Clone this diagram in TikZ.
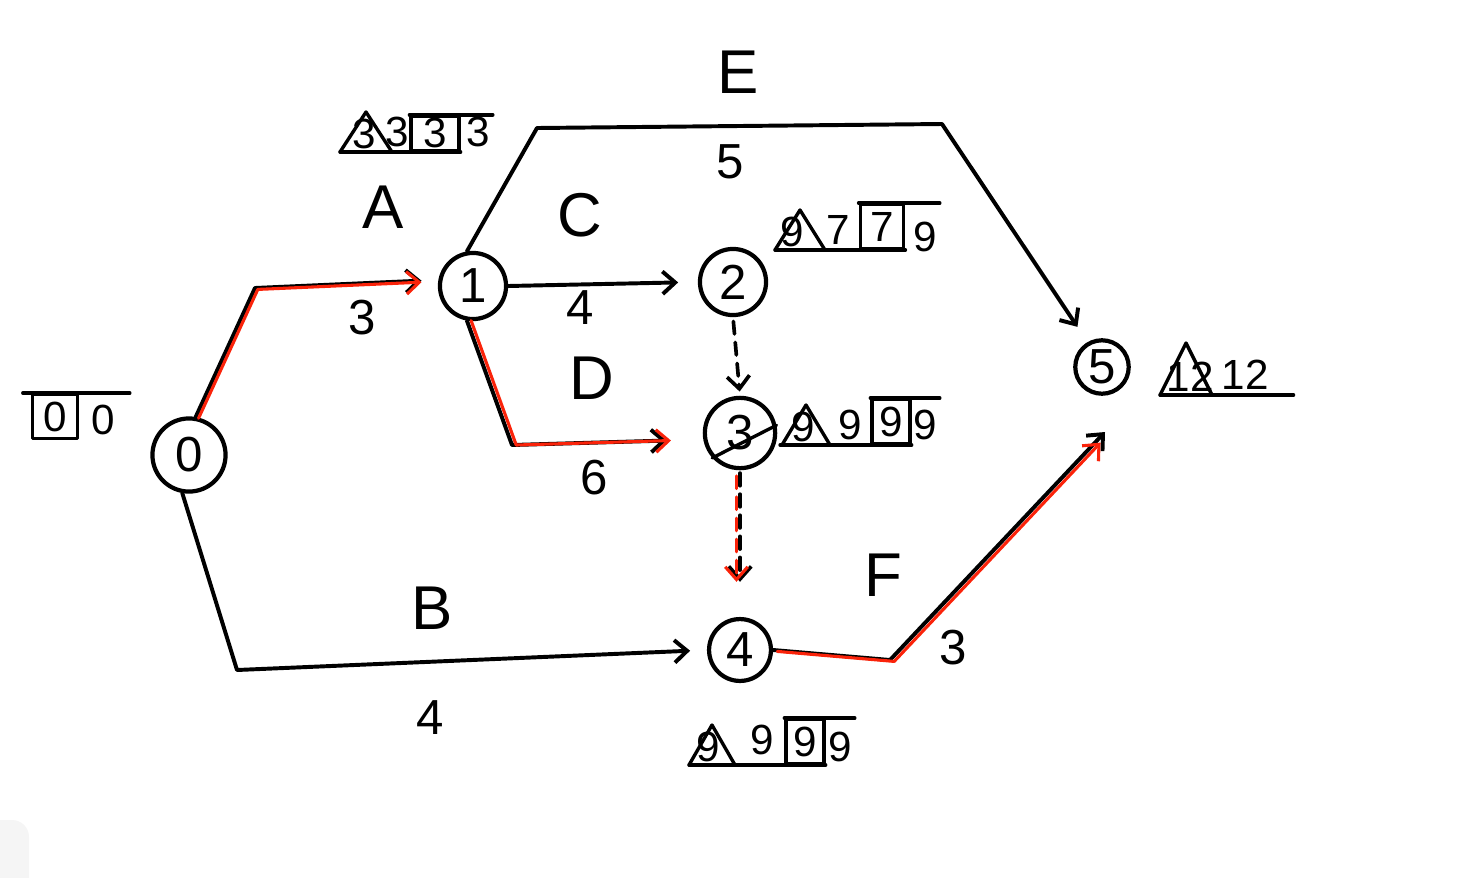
\documentclass[tikz,border=0pt]{standalone}
\usepackage{fontspec}
\setmainfont{Liberation Sans}
\usetikzlibrary{shapes,arrows.meta,positioning,calc}
\definecolor{critred}{RGB}{250,35,10}
\definecolor{panelgray}{RGB}{245,245,245}
\newcommand{\annofont}{\fontsize{30}{30}\selectfont}
\newcommand{\labfont}{\fontsize{44}{44}\selectfont}
\newcommand{\durfont}{\fontsize{35}{35}\selectfont}

\tikzset{pics/tri/.style args={#1/#2}{code={\draw[line width=2.4pt] (-#1,0) -- (0,-#2) -- (#1,0) -- cycle;}}}

\begin{document}
\begin{tikzpicture}[x=0.025cm, y=-0.025cm, line cap=round, line join=round,
    >={Straight Barb[length=9pt,width=16pt]},
    event/.style={circle, draw, line width=3pt, inner sep=0pt, font=\fontsize{35}{35}\selectfont},
    act/.style={line width=2.8pt},
    crit/.style={line width=2.2pt, draw=critred},
    dummy/.style={line width=2.6pt, dash pattern=on 9pt off 6pt},
    bx/.style={rectangle, draw, line width=2.4pt, inner sep=0pt, minimum width=28pt, minimum height=31pt, font=\annofont},
    num/.style={inner sep=2pt, font=\annofont},
    rule/.style={line width=2.4pt},
    lab/.style={font=\labfont},
    dur/.style={font=\durfont}]
    \useasboundingbox (0,0) rectangle (1468,877);
    % corner panel
    \fill[panelgray, rounded corners=12] (-20,820) rectangle (29,900);

    % Events
    \node[event, minimum size=52pt] (n0) at (189,455) {0};
    \node[event, minimum size=47pt] (n1) at (473,286) {1};
    \node[event, minimum size=47pt] (n2) at (733,282) {2};
    \node[event, minimum size=50pt] (n3) at (740,433) {3};
    \node[event, minimum size=44pt] (n4) at (740,650) {4};
    \node[event, minimum size=38pt] (n5) at (1102,367) {5};
    \draw[line width=2.4pt] (n3.222) -- (n3.12);

    % Corners of the activity lines
    \coordinate (cA) at (255,288);
    \coordinate (cD) at (512,445);
    \coordinate (cE1) at (537,128);
    \coordinate (cE2) at (942,124);
    \coordinate (cB) at (237,670);
    \coordinate (cF) at (890,660);
    \coordinate (tF) at (1105,432);

    % Activities
    \draw[act, ->, shorten >=12pt] (n0.80) -- (cA) -- (n1.170);
    \draw[act, ->, shorten >=14pt] (n1.east) -- (n2.west);
    \draw[act, ->, shorten >=26pt] (n1.260) -- (cD) -- (n3.190);
    \draw[act, ->, shorten >=13pt] (n1.100) -- (cE1) -- (cE2) -- (n5.120);
    \draw[act, ->, shorten >=12pt] (n0.260) -- (cB) -- (n4.west);
    \draw[act, ->] (n4.east) -- (cF) -- (tF);
    \draw[dummy, ->, shorten <=3pt, shorten >=3pt] (n2.south) -- (n3.north);
    \draw[dummy, ->, shorten <=2pt, shorten >=25pt] (n3.south) -- (n4.north);

    % Critical path
    \begin{scope}[transform canvas={xshift=2pt, yshift=-1pt}]
        \draw[crit, ->, shorten >=14pt] (n0.80) -- (cA) -- (n1.170);
    \end{scope}
    \begin{scope}[transform canvas={xshift=3pt}]
        \draw[crit, ->, shorten >=26pt] (n1.260) -- (cD) -- (n3.190);
    \end{scope}
    \begin{scope}[transform canvas={xshift=3pt, yshift=-1pt}]
        \draw[crit, ->, shorten >=9pt] (n4.east) -- (cF) -- (tF);
    \end{scope}
    \begin{scope}[transform canvas={xshift=-2.5pt}]
        \draw[crit, dummy, line width=2.2pt, ->, shorten <=4pt, shorten >=25pt] (n3.south) -- (n4.north);
    \end{scope}

    % Activity names and durations
    \node[lab] (lE) at (738,72) {E};
    \node[dur] (dE) at (730,162) {5};
    \node[lab] (lA) at (383,207) {A};
    \node[dur] (dA) at (362,318) {3};
    \node[lab] (lC) at (580,215) {C};
    \node[dur] (dC) at (580,308) {4};
    \node[lab] (lD) at (592,378) {D};
    \node[dur] (dD) at (594,478) {6};
    \node[lab] (lB) at (432,608) {B};
    \node[dur] (dB) at (430,718) {4};
    \node[lab] (lF) at (883,575) {F};
    \node[dur] (dF) at (953,648) {3};

    % Event times
    \node[bx, anchor=south, minimum width=32pt] (b0) at (55,440) {0};
    \node[num, anchor=south] (l0) at (103,438) {0};
    \draw[rule] (b0.north west) ++(-8,0) -- (b0.north west -| l0.east) -- ++(12,0);

    \node[num, anchor=south] (t1) at (364,152) {3};
    \pic at (366,152) {tri=26/40};
    \node[num, anchor=south] (e1) at (397,150) {3};
    \node[bx, anchor=south, minimum width=34pt, minimum height=24pt] (b1) at (435,152) {3};
    \node[num, anchor=south] (l1) at (478,150) {3};
    \draw[rule] ($(t1.south)+(-24,0)$) -- (b1.south east);
    \draw[rule] (b1.north west) -- (b1.north west -| l1.east);

    \node[num, anchor=south] (t2) at (792,250) {9};
    \pic at (800,250) {tri=25/40};
    \node[num, anchor=south] (e2) at (838,248) {7};
    \node[bx, anchor=south, minimum width=31pt] (b2) at (882,250) {7};
    \node[num, anchor=south] (l2) at (925,255) {9};
    \draw[rule] ($(t2.south)+(-17,0)$) -- (b2.south east);
    \draw[rule] (b2.north west) -- (b2.north west -| l2.east);

    \node[num, anchor=south] (t3) at (803,445) {9};
    \pic at (806,445) {tri=24/40};
    \node[num, anchor=south] (e3) at (850,443) {9};
    \node[bx, anchor=south, minimum width=27pt] (b3) at (891,445) {9};
    \node[num, anchor=south] (l3) at (925,443) {9};
    \draw[rule] ($(t3.south)+(-23,0)$) -- (b3.south east);
    \draw[rule] (b3.north west) -- (b3.north west -| l3.east);

    \node[num, anchor=south] (t4) at (708,765) {9};
    \pic at (712,765) {tri=23/40};
    \node[num, anchor=south] (e4) at (762,758) {9};
    \node[bx, anchor=south, minimum width=27pt] (b4) at (805,765) {9};
    \node[num, anchor=south] (l4) at (840,765) {9};
    \draw[rule] ($(t4.south)+(-19,0)$) -- (b4.south east);
    \draw[rule] (b4.north west) -- (b4.north west -| l4.east);

    \node[num, anchor=south] (t5) at (1190,395) {12};
    \pic at (1186,395) {tri=26/52};
    \node[num, anchor=south] (e5) at (1245,393) {12};
    \draw[rule] ($(t5.south)+(-30,0)$) -- (t5.south -| e5.east) -- ++(22,0);
\end{tikzpicture}
\end{document}
